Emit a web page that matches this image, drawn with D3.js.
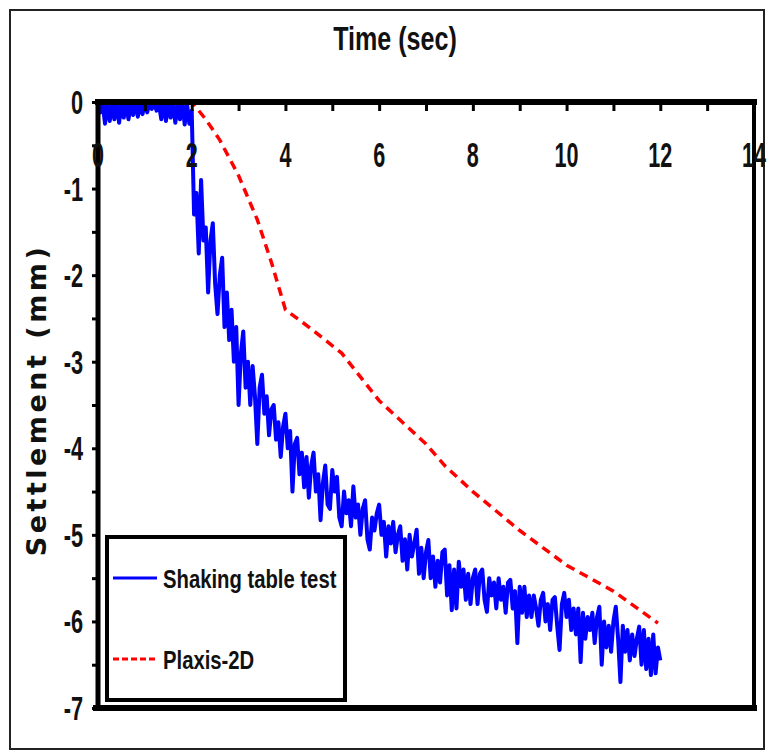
<!DOCTYPE html>
<html>
<head>
<meta charset="utf-8">
<script src="https://cdn.jsdelivr.net/npm/d3@7"></script>
<style>
  html, body { margin: 0; padding: 0; background: #fff; }
  svg { display: block; }
</style>
</head>
<body>
<div id="chart"></div>
<script>
// Settlement vs time — shaking table test vs Plaxis-2D

const TEST_DT = 0.05;
const testSettlement = [
  0, -0.12, -0.02, -0.25, 0, -0.22, -0.03, -0.2, 0, -0.24, -0.02, -0.18, 0, -0.2, -0.03, -0.15, 0, -0.17, -0.02, -0.14,
  0, -0.12, -0.01, -0.08, 0, -0.1, -0.02, -0.2, 0, -0.22, -0.02, -0.18, 0, -0.24, -0.03, -0.2, 0, -0.26, -0.02, -0.25,
  -0.1, -1.3, -1.05, -1.75, -0.9, -1.6, -1.45, -2.2, -1.6, -1.4, -2.1, -2.45, -2.0, -1.8, -2.6, -2.2, -2.75, -2.4, -3.0, -2.6,
  -3.5, -2.9, -2.65, -3.3, -3.0, -3.5, -3.05, -3.4, -3.95, -3.3, -3.15, -3.6, -3.4, -3.85, -3.55, -3.5, -3.9, -3.7, -4.1, -3.75,
  -3.6, -4.0, -3.8, -4.5, -3.95, -3.88, -4.3, -4.05, -4.45, -4.1, -4.57, -4.2, -4.05, -4.5, -4.3, -4.83, -4.4, -4.2, -4.65, -4.7,
  -4.25, -4.5, -4.33, -4.8, -4.9, -4.5, -4.75, -4.6, -4.9, -4.44, -4.8, -4.65, -5.0, -4.7, -4.6, -5.05, -5.17, -4.8, -4.95, -4.75,
  -4.65, -5.0, -4.85, -5.25, -4.9, -5.1, -4.85, -5.2, -5.0, -4.9, -5.3, -5.05, -5.4, -5.0, -5.25, -5.1, -4.94, -5.45, -5.15, -5.5,
  -5.2, -5.06, -5.5, -5.25, -5.6, -5.3, -5.55, -5.2, -5.17, -5.7, -5.35, -5.87, -5.4, -5.85, -5.31, -5.6, -5.4, -5.75, -5.45, -5.8,
  -5.5, -5.4, -5.8, -5.45, -5.4, -5.75, -5.89, -5.5, -5.7, -5.55, -5.85, -5.5, -5.75, -5.6, -5.9, -5.55, -5.52, -5.85, -5.65, -6.25,
  -5.6, -5.9, -5.6, -5.95, -5.7, -5.95, -5.7, -5.85, -6.05, -5.75, -5.67, -6.0, -5.8, -6.1, -5.75, -5.72, -6.05, -6.33, -5.8, -5.67,
  -5.95, -5.75, -6.1, -5.85, -6.15, -5.85, -6.47, -5.9, -6.2, -5.95, -6.1, -5.9, -6.25, -5.95, -5.83, -6.5, -6.0, -6.3, -6.05, -6.35,
  -6.0, -5.83, -6.2, -6.7, -6.05, -6.35, -6.1, -6.45, -6.15, -6.4, -6.2, -6.06, -6.5, -6.1, -6.55, -6.2, -6.62, -6.15, -6.6, -6.3,
  -6.45
];

// Plaxis-2D prediction
const plaxisTime = [0, 2, 2.3, 2.6, 3.0, 3.4, 3.7, 4.0, 4.5, 5.2, 6.0, 7.0, 7.4, 8.0, 9.0, 10.0, 11.0, 11.95];
const plaxisSettlement = [0, 0, -0.2, -0.44, -0.85, -1.36, -1.85, -2.4, -2.6, -2.9, -3.45, -3.95, -4.2, -4.5, -4.95, -5.35, -5.65, -6.02];

const xTicks = [0, 2, 4, 6, 8, 10, 12, 14];
const yTicks = [0, -1, -2, -3, -4, -5, -6, -7];

const seriesNames = ["Shaking table test", "Plaxis-2D"];

const W = 769, H = 752;
const svg = d3.select("#chart").append("svg")
  .attr("width", W)
  .attr("height", H);

// outer frame
svg.append("rect")
  .attr("x", 10).attr("y", 10)
  .attr("width", 754).attr("height", 739)
  .attr("fill", "none")
  .attr("stroke", "#222")
  .attr("stroke-width", 2);

const x = d3.scaleLinear().domain([0, 14]).range([98, 754]);
const y = d3.scaleLinear().domain([-7, 0]).range([708, 102]);

const testData = testSettlement.map((v, i) => ({ t: i * TEST_DT, s: v }));
const plaxisData = plaxisTime.map((t, i) => ({ t: t, s: plaxisSettlement[i] }));

const line = d3.line().x(d => x(d.t)).y(d => y(d.s));

// series
svg.append("path")
  .datum(testData)
  .attr("d", line)
  .attr("fill", "none")
  .attr("stroke", "#0000ff")
  .attr("stroke-width", 4)
  .attr("stroke-linejoin", "round");

svg.append("path")
  .datum(plaxisData)
  .attr("d", line)
  .attr("fill", "none")
  .attr("stroke", "#ff0000")
  .attr("stroke-width", 3.5)
  .attr("stroke-dasharray", "9,6");

// axes: top x axis with inward ticks, left y axis with outward ticks
const xAxis = d3.axisBottom(x)
  .tickValues(d3.range(0, 15, 1))
  .tickSize(9)
  .tickFormat("");
const gx = svg.append("g")
  .attr("transform", `translate(0,${y(0)})`)
  .call(xAxis);
gx.select(".domain").remove();
gx.selectAll(".tick line").attr("stroke", "#000").attr("stroke-width", 3);

const yAxis = d3.axisLeft(y)
  .tickValues(d3.range(-7, 0.01, 0.5))
  .tickSize(6)
  .tickFormat("");
const gy = svg.append("g")
  .attr("transform", `translate(${x(0)},0)`)
  .call(yAxis);
gy.select(".domain").remove();
gy.selectAll(".tick line").attr("stroke", "#000").attr("stroke-width", 3);

// frame lines
svg.append("line")
  .attr("x1", x(0) - 3).attr("x2", x(14) + 3)
  .attr("y1", y(0)).attr("y2", y(0))
  .attr("stroke", "#000").attr("stroke-width", 6);
svg.append("line")
  .attr("x1", x(0) - 5).attr("x2", x(14) + 3)
  .attr("y1", y(-7)).attr("y2", y(-7))
  .attr("stroke", "#000").attr("stroke-width", 6);
svg.append("line")
  .attr("x1", x(0)).attr("x2", x(0))
  .attr("y1", y(0)).attr("y2", y(-7))
  .attr("stroke", "#000").attr("stroke-width", 5);
svg.append("line")
  .attr("x1", x(14)).attr("x2", x(14))
  .attr("y1", y(0)).attr("y2", y(-7))
  .attr("stroke", "#000").attr("stroke-width", 4);

const font = "'Liberation Sans', sans-serif";

// condensed text: draw at origin and squeeze horizontally
function narrowText(parent, tx, ty, str, size, sx, anchor) {
  return parent.append("text")
    .attr("transform", `translate(${tx},${ty}) scale(${sx},1)`)
    .attr("text-anchor", anchor)
    .style("font-family", font)
    .style("font-weight", "700")
    .style("font-size", size + "px")
    .attr("fill", "#111")
    .text(str);
}

// x tick labels (inside the plot, under the top axis)
const xLabelG = svg.append("g");
xTicks.forEach(d => narrowText(xLabelG, x(d), 167, d, 36, 0.6, "middle"));

// y tick labels
const yLabelG = svg.append("g");
yTicks.forEach(d => narrowText(yLabelG, 83, y(d) + 12, d === 0 ? "0" : "-" + Math.abs(d), 33, 0.66, "end"));

// axis titles
narrowText(svg, 395, 50, "Time (sec)", 33, 0.76, "middle");

svg.append("text")
  .attr("transform", "translate(46,400) rotate(-90)")
  .attr("text-anchor", "middle")
  .style("font-family", "'DejaVu Sans', sans-serif")
  .style("font-weight", "700")
  .style("font-size", "27px")
  .style("letter-spacing", "3.5px")
  .attr("fill", "#111")
  .text("Settlement (mm)");

// legend
const legendG = svg.append("g");
legendG.append("rect")
  .attr("x", 107).attr("y", 537)
  .attr("width", 238).attr("height", 163)
  .attr("fill", "#fff")
  .attr("stroke", "#000")
  .attr("stroke-width", 4);

const legendItems = legendG.selectAll(".legend-item")
  .data(seriesNames)
  .join("g")
  .attr("class", "legend-item")
  .attr("transform", (d, i) => `translate(0,${578 + i * 81})`);

legendItems.append("line")
  .attr("x1", 113).attr("x2", 157)
  .attr("y1", 0).attr("y2", 0)
  .attr("stroke", (d, i) => i === 0 ? "#0000ff" : "#ff0000")
  .attr("stroke-width", 3)
  .attr("stroke-dasharray", (d, i) => i === 0 ? null : "6,3");

legendItems.each(function(d) {
  narrowText(d3.select(this), 163, 10, d, 26, 0.78, "start");
});
</script>
</body>
</html>
